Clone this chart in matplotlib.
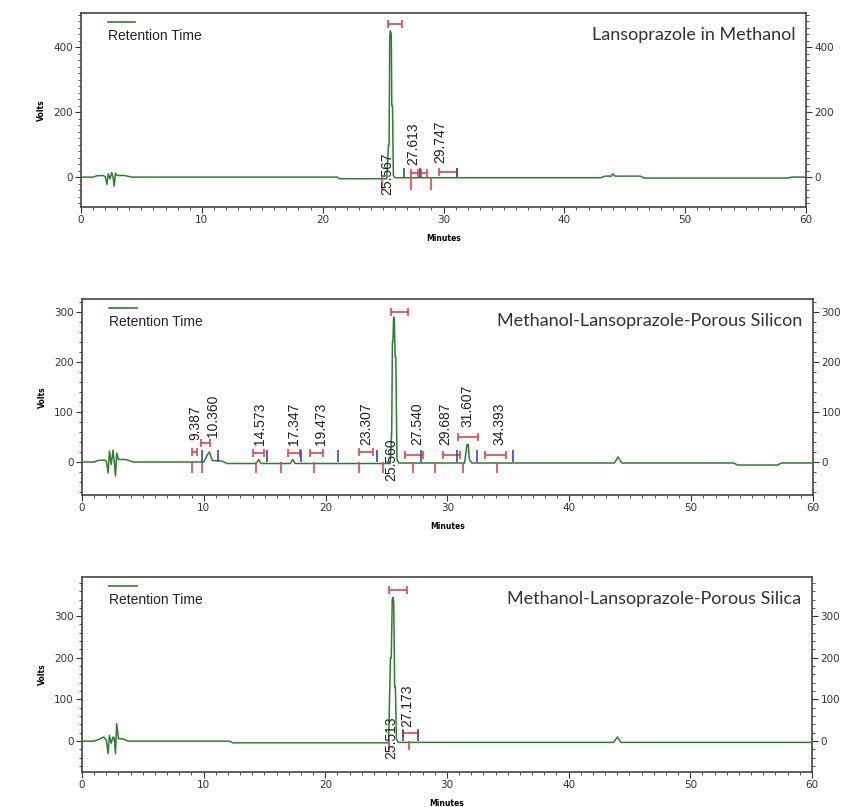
import numpy as np
import matplotlib.pyplot as plt
from matplotlib.ticker import MultipleLocator

# ---- panel 1 : Lansoprazole in Methanol ----
t1 = [0, 1.0, 1.3, 1.8, 2.0, 2.15, 2.25, 2.4, 2.55, 2.65, 2.75, 2.85, 3.0, 3.6, 4.2,
      21.2, 21.4, 25.3, 25.45, 25.5, 25.55, 25.6, 25.68, 25.72, 25.78, 25.85, 26.0,
      43.0, 43.4, 43.9, 44.0, 44.2, 46.3, 46.6, 58.5, 58.8, 60]
v1 = [0, 0, 4, 5, 2, -22, 10, -5, 14, 0, -28, 12, 5, 5, 0,
      0, -5, -5, 100, 100, 430, 450, 440, 220, 220, 5, -2,
      -2, 3, 3, 10, 3, 3, -3, -3, 0, 0]
rt1 = [25.567, 27.613, 29.747]
lab1_x = [25.38, 27.5, 29.7]
lab1_y = [12, 37, 43]
hbar1 = [(25.4, 26.6, 470), (27.3, 27.85, 13), (28.1, 28.6, 13), (29.6, 31.1, 16)]
red1 = [24.9, 27.3, 29.0]
blue1 = [26.75, 28.06, 31.1]

# ---- panel 2 : Methanol-Lansoprazole-Porous Silicon ----
t2 = [0, 1.0, 1.3, 1.8, 2.0, 2.15, 2.25, 2.4, 2.55, 2.65, 2.75, 2.85, 3.0, 3.6, 4.2,
      10.0, 10.3, 10.45, 10.7, 11.5, 11.9, 14.3, 14.5, 14.7, 17.1, 17.3, 17.5,
      25.3, 25.42, 25.48, 25.52, 25.58, 25.64, 25.7, 25.76, 25.85, 26.0,
      31.4, 31.6, 31.7, 31.8, 32.0, 43.7, 44.0, 44.3, 53.5, 53.8, 57.1, 57.4, 60]
v2 = [0, 0, 3, 4, 2, -22, 22, -5, 24, 0, -28, 18, 5, 5, 0,
      0, 15, 20, 3, 2, -3, -3, 5, -3, -3, 5, -3,
      -3, 60, 240, 240, 290, 280, 210, 210, 5, -2,
      -2, 35, 35, 5, -2, -2, 10, -2, -2, -6, -6, -2, -2]
rt2 = [9.387, 10.360, 14.573, 17.347, 19.473, 23.307, 25.560, 27.540, 29.687, 31.607, 34.393]
lab2_x = [9.28, 10.76, 14.6, 17.4, 19.6, 23.3, 25.4, 27.5, 29.8, 31.6, 34.3]
lab2_y = [44, 50, 34, 34, 34, 34, 4, 34, 34, 70, 34]
hbar2 = [(25.37, 26.77, 300), (9.0, 9.46, 20), (9.8, 10.5, 38), (14.05, 14.9, 18),
         (16.9, 17.9, 18), (18.7, 19.8, 18), (22.7, 23.9, 20), (26.5, 28.0, 14),
         (29.6, 31.0, 14), (30.9, 32.5, 50), (33.1, 34.8, 14)]
red2 = [9.0, 9.88, 14.3, 16.34, 19.07, 22.72, 24.68, 27.2, 29.0, 31.3, 34.1]
blue2 = [9.83, 11.2, 15.16, 17.95, 21.0, 24.2, 27.83, 30.76, 32.4, 35.4]

# ---- panel 3 : Methanol-Lansoprazole-Porous Silica ----
t3 = [0, 1.0, 1.3, 1.8, 2.0, 2.15, 2.25, 2.4, 2.55, 2.65, 2.75, 2.85, 3.0, 3.4, 3.8,
      12.1, 12.4, 25.2, 25.35, 25.42, 25.5, 25.56, 25.62, 25.7, 25.76, 25.84, 26.0,
      43.7, 44.0, 44.3, 60]
v3 = [0, 0, 3, 10, 2, -30, 14, -5, 10, 8, -30, 42, 6, 5, 0,
      0, -4, -4, 200, 200, 340, 345, 335, 130, 130, 5, -3,
      -3, 10, -3, -3]
rt3 = [25.513, 27.173]
lab3_x = [25.4, 26.7]
lab3_y = [7, 34]
hbar3 = [(25.2, 26.7, 362), (26.4, 27.6, 20)]
red3 = [25.2, 26.87]
blue3 = [26.4, 27.6]

GREEN = '#2f7d32'
RED = '#e0464f'
BLUE = '#4040c8'

fig = plt.figure(figsize=(8.41, 8.07), dpi=100)

panels = [
    dict(pos=[0.0963, 0.7435, 0.8621, 0.2404], t=t1, v=v1, ylim=(-92, 505), yt=[0, 200, 400],
         title="Lansoprazole in Methanol", rt=rt1, lx=lab1_x, ly=lab1_y, hb=hbar1, red=red1,
         blue=blue1, span=(40, 28), cap=3),
    dict(pos=[0.0975, 0.3866, 0.8692, 0.2429], t=t2, v=v2, ylim=(-66, 326), yt=[0, 100, 200, 300],
         title="Methanol-Lansoprazole-Porous Silicon", rt=rt2, lx=lab2_x, ly=lab2_y, hb=hbar2,
         red=red2, blue=blue2, span=(22, 24), cap=3),
    dict(pos=[0.0975, 0.0434, 0.8680, 0.2416], t=t3, v=v3, ylim=(-74, 394), yt=[0, 100, 200, 300],
         title="Methanol-Lansoprazole-Porous Silica", rt=rt3, lx=lab3_x, ly=lab3_y, hb=hbar3,
         red=red3, blue=blue3, span=(22, 26), cap=3),
]

for p in panels:
    ax = fig.add_axes(p['pos'])
    ax.plot(p['t'], p['v'], color=GREEN, lw=1.1, zorder=3)

    for x0, x1, y in p['hb']:
        ax.errorbar((x0 + x1) / 2, y, xerr=(x1 - x0) / 2, fmt='none', ecolor=RED,
                    elinewidth=1.2, capsize=p['cap'], capthick=1.2, zorder=4)
    ax.vlines(p['red'], -p['span'][0], 0, colors=RED, lw=1.2, zorder=4)
    ax.vlines(p['blue'], 0, p['span'][1], colors=BLUE, lw=1.2, zorder=4)

    for lbl, x, y in zip(p['rt'], p['lx'], p['ly']):
        va = 'center' if y < 20 else 'bottom'
        ax.text(x, y, f"{lbl:.3f}", rotation=90, ha='center', va=va, fontsize=10,
                family='Liberation Sans', color='#202020', zorder=5)

    ax.set_xlim(0, 60)
    ax.set_ylim(*p['ylim'])
    ax.set_xticks(range(0, 61, 10))
    ax.xaxis.set_minor_locator(MultipleLocator(1))
    ax.set_yticks(p['yt'])
    ax.yaxis.set_minor_locator(MultipleLocator(20))
    ax.tick_params(which='both', direction='out', labelsize=7.5, colors='#333333',
                   right=True, labelright=True, pad=2)
    ax.tick_params(which='major', length=4, width=0.8)
    ax.tick_params(which='minor', length=2, width=0.6)
    for s in ax.spines.values():
        s.set_color('#444444')
        s.set_linewidth(1.2)

    ax.set_xlabel("Minutes", fontsize=5.5, fontweight='bold', labelpad=6)
    ax.set_ylabel("Volts", fontsize=5.5, fontweight='bold', labelpad=5)

    # legend-like block
    ax.plot([0.037, 0.075], [0.955, 0.955], transform=ax.transAxes, color=GREEN, lw=1.2)
    ax.text(0.037, 0.92, "Retention Time", transform=ax.transAxes, ha='left', va='top',
            fontsize=10, family='Liberation Sans', color='#222222')
    ax.text(0.985, 0.93, p['title'], transform=ax.transAxes, ha='right', va='top',
            fontsize=13, family='Lato', color='#333333')

fig.savefig("out.png", dpi=100)
